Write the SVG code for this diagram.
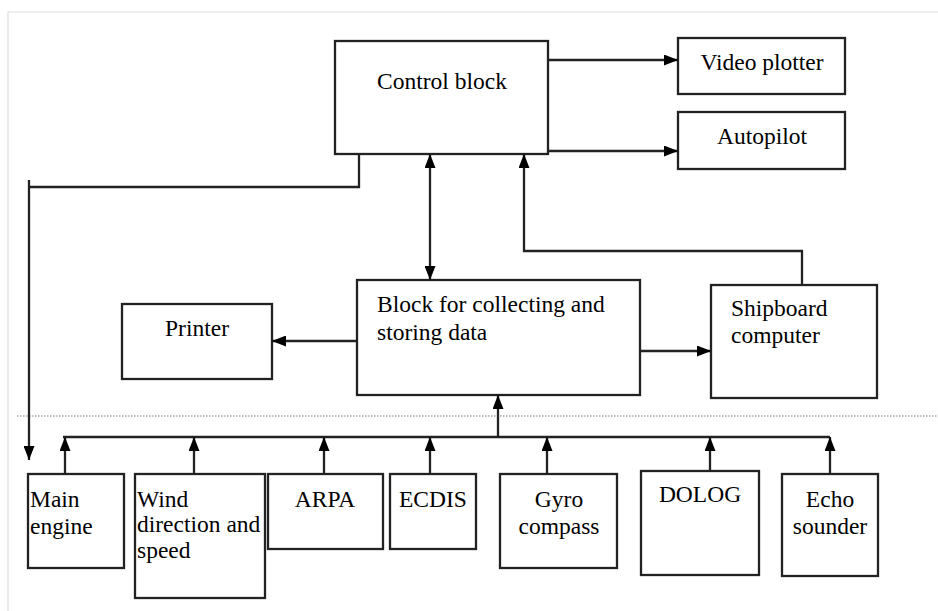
<svg xmlns="http://www.w3.org/2000/svg" width="938" height="611" viewBox="0 0 938 611">
<style>
.box{fill:#fff;stroke:#222;stroke-width:2.3}
.t{font-family:'Liberation Serif',Tinos,'Times New Roman','DejaVu Serif',serif;font-size:23.5px;fill:#000}
.m{text-anchor:middle}
.c{fill:none;stroke:#222;stroke-width:2.3}
</style>
<defs>
<marker id="ah" viewBox="0 0 14 11" refX="14" refY="5.5" markerWidth="14" markerHeight="11" markerUnits="userSpaceOnUse" orient="auto-start-reverse">
<path d="M0,0 L14,5.5 L0,11 z" fill="#000"/>
</marker>
</defs>
<rect width="938" height="611" fill="#fff"/>
<path d="M8,611 V12 H938" fill="none" stroke="#ddd" stroke-width="1.2"/>
<line x1="17" y1="416" x2="938" y2="416" stroke="#777" stroke-width="1" stroke-dasharray="1.5 1.5"/>

<g id="control"><rect class="box" x="335" y="41" width="213" height="113"/><text class="t" x="377" y="89">Control block</text></g>
<g id="video"><rect class="box" x="678" y="38" width="167" height="56"/><text class="t m" x="762" y="70">Video plotter</text></g>
<g id="autopilot"><rect class="box" x="678" y="112" width="167" height="57"/><text class="t m" x="762" y="144">Autopilot</text></g>
<g id="collect"><rect class="box" x="357" y="280" width="283" height="115"/><text class="t" x="377" y="312">Block for collecting and</text><text class="t" x="377" y="340">storing data</text></g>
<g id="printer"><rect class="box" x="122" y="304" width="150" height="75"/><text class="t m" x="197" y="336">Printer</text></g>
<g id="shipboard"><rect class="box" x="711" y="285" width="166" height="113"/><text class="t" x="731" y="316">Shipboard</text><text class="t" x="731" y="343">computer</text></g>
<g id="mainengine"><rect class="box" x="28" y="474" width="96" height="94"/><text class="t" x="30" y="507">Main</text><text class="t" x="30" y="534">engine</text></g>
<g id="wind"><rect class="box" x="135" y="474" width="130" height="124"/><text class="t" x="137" y="507">Wind</text><text class="t" x="137" y="532">direction and</text><text class="t" x="137" y="558">speed</text></g>
<g id="arpa"><rect class="box" x="268" y="474" width="115" height="75"/><text class="t m" x="325" y="507">ARPA</text></g>
<g id="ecdis"><rect class="box" x="390" y="474" width="86" height="75"/><text class="t" x="399" y="507">ECDIS</text></g>
<g id="gyro"><rect class="box" x="500" y="474" width="117" height="94"/><text class="t m" x="559" y="507">Gyro</text><text class="t m" x="559" y="534">compass</text></g>
<g id="dolog"><rect class="box" x="641" y="471" width="118" height="104"/><text class="t m" x="700" y="502">DOLOG</text></g>
<g id="echo"><rect class="box" x="782" y="474" width="96" height="102"/><text class="t m" x="830" y="507">Echo</text><text class="t m" x="830" y="534">sounder</text></g>

<g id="connectors">
<path class="c" d="M548,60 H678" marker-end="url(#ah)"/>
<path class="c" d="M548,151 H678" marker-end="url(#ah)"/>
<path class="c" d="M359,154 V187 H29"/>
<path class="c" d="M29,180 V460" marker-end="url(#ah)"/>
<path class="c" d="M430,154 V280" marker-start="url(#ah)" marker-end="url(#ah)"/>
<path class="c" d="M802,285 V251 H524 V154" marker-end="url(#ah)"/>
<path class="c" d="M357,341 H272" marker-end="url(#ah)"/>
<path class="c" d="M640,351 H711" marker-end="url(#ah)"/>
<path class="c" d="M63,437 H830"/>
<path class="c" d="M498,437 V395" marker-end="url(#ah)"/>
<path class="c" d="M65,474 V437" marker-end="url(#ah)"/>
<path class="c" d="M194,474 V437" marker-end="url(#ah)"/>
<path class="c" d="M324,474 V437" marker-end="url(#ah)"/>
<path class="c" d="M430,474 V437" marker-end="url(#ah)"/>
<path class="c" d="M547,474 V437" marker-end="url(#ah)"/>
<path class="c" d="M710,471 V437" marker-end="url(#ah)"/>
<path class="c" d="M830,474 V437" marker-end="url(#ah)"/>
</g>
</svg>
